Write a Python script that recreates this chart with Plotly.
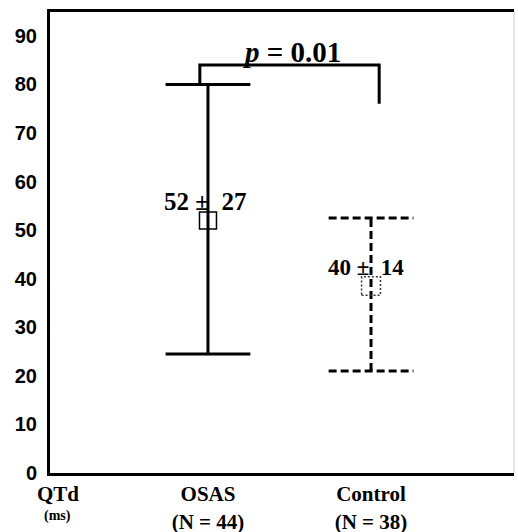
import plotly.graph_objects as go

# ---- data ----
groups = ["OSAS", "Control"]
group_x = [1, 2]
group_n = [44, 38]
means = [52, 38.5]
lower = [24.5, 21]
upper = [80, 52.5]
label_mean = [52, 40]
label_sd = [27, 14]
p_value = "0.01"
bracket_top = 84
bracket_right_end = 76

y_ticks = [0, 10, 20, 30, 40, 50, 60, 70, 80, 90]
axis_label_x = 0.08
cap_half = 0.26

dashes = ["solid", "8px,4px"]

fig = go.Figure()

for i, g in enumerate(groups):
    xi = group_x[i]
    xs = [xi, xi, None, xi - cap_half, xi + cap_half, None, xi - cap_half, xi + cap_half]
    ys = [lower[i], upper[i], None, upper[i], upper[i], None, lower[i], lower[i]]
    fig.add_trace(go.Scatter(x=xs, y=ys, mode="lines",
                             line=dict(color="black", width=3, dash=dashes[i]),
                             showlegend=False, hoverinfo="skip"))

# OSAS mean marker: open square
fig.add_trace(go.Scatter(x=[group_x[0]], y=[means[0]], mode="markers",
                         marker=dict(symbol="square-open", size=17,
                                     line=dict(color="black", width=1.5), color="black"),
                         showlegend=False))

# Control mean marker: dotted open square
hx, hy = 0.058, 1.9
cx, cy = group_x[1], means[1]
fig.add_trace(go.Scatter(x=[cx - hx, cx + hx, cx + hx, cx - hx, cx - hx],
                         y=[cy - hy, cy - hy, cy + hy, cy + hy, cy - hy],
                         mode="lines", line=dict(color="#333", width=1.5, dash="2px,2px"),
                         showlegend=False, hoverinfo="skip"))

# significance bracket
bl = group_x[0] - 0.05
br = group_x[1] + 0.05
fig.add_trace(go.Scatter(x=[bl, bl, br, br],
                         y=[upper[0], bracket_top, bracket_top, bracket_right_end],
                         mode="lines", line=dict(color="black", width=3),
                         showlegend=False, hoverinfo="skip"))

annotations = []
text_sizes = [25, 23]
text_xshift = [-3, -5]
text_yshift = [19, 18]
for i in range(len(groups)):
    annotations.append(dict(x=group_x[i], y=means[i], xref="x", yref="y",
                            text=f"<b>{label_mean[i]} ±  {label_sd[i]}</b>",
                            showarrow=False, yshift=text_yshift[i], xshift=text_xshift[i],
                            font=dict(family="Liberation Serif", size=text_sizes[i], color="black")))

annotations.append(dict(x=(group_x[0] + group_x[1]) / 2 + 0.01, y=bracket_top, xref="x", yref="y",
                        text=f"<b><i>p</i> = {p_value}</b>", showarrow=False,
                        yanchor="bottom", yshift=-5,
                        font=dict(family="Liberation Serif", size=29, color="black")))

annotations.append(dict(x=axis_label_x, y=0, xref="x", yref="paper", yanchor="top",
                        text="<b>(ms)</b>", showarrow=False, yshift=-33,
                        font=dict(family="Liberation Serif", size=14, color="black")))

fig.update_layout(
    width=518, height=532,
    margin=dict(l=50, r=4, t=12, b=59),
    plot_bgcolor="white", paper_bgcolor="white",
    annotations=annotations,
    shapes=[dict(type="line", xref="paper", yref="paper", x0=1, x1=1, y0=0, y1=1,
                 line=dict(color="#cfcfcf", width=1))],
    xaxis=dict(range=[0.031, 2.877], showgrid=False, zeroline=False, automargin=False,
               showline=True, linecolor="black", linewidth=3, mirror=True,
               tickvals=[axis_label_x] + group_x,
               ticktext=["QTd"] + [f"{g}<br>(N = {n})" for g, n in zip(groups, group_n)],
               ticks="", ticklabelstandoff=0,
               tickfont=dict(family="Liberation Serif", size=21, color="black", weight="bold")),
    yaxis=dict(range=[0, 94.9], showgrid=False, zeroline=False, automargin=False,
               showline=True, linecolor="black", linewidth=3,
               tickvals=y_ticks, ticks="", ticklabelstandoff=6,
               tickfont=dict(family="Liberation Sans", size=20, color="black", weight="bold")),
)

fig.write_html("out.html")
